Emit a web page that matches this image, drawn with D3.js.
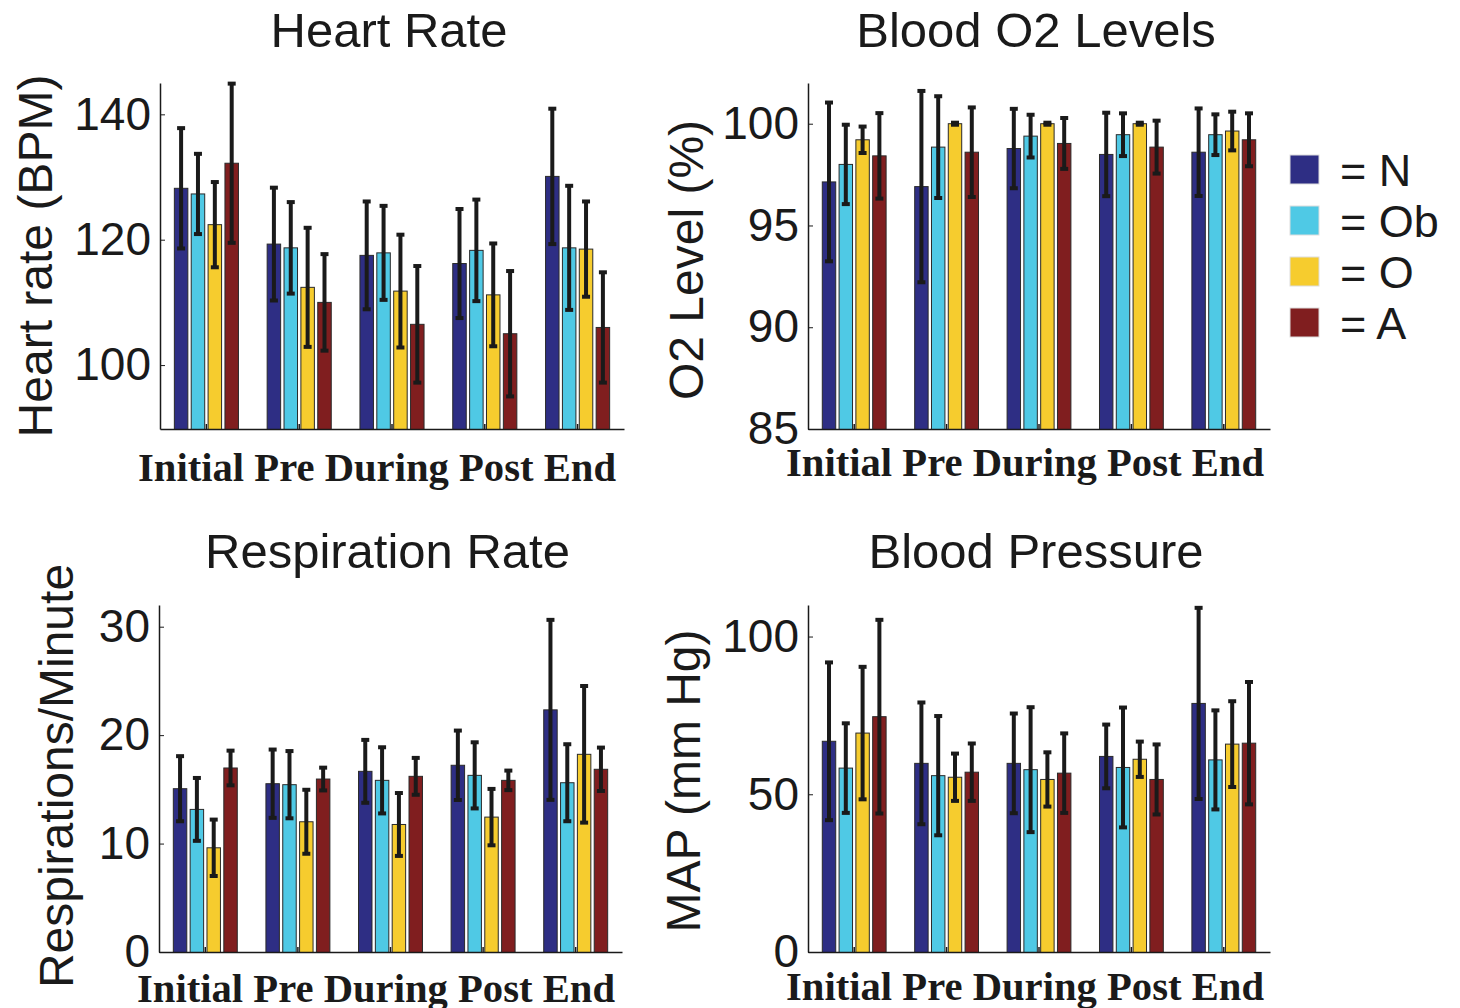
<!DOCTYPE html>
<html>
<head>
<meta charset="utf-8">
<script src="https://cdn.jsdelivr.net/npm/d3@7"></script>
<style>
  body { margin: 0; background: #fff; }
  svg text { fill: #1a1a1a; }
</style>
</head>
<body>
<svg id="chart" width="1460" height="1008"></svg>
<script>
// categories and groups
const categories = ["Initial", "Pre", "During", "Post", "End"];
const groups = ["N", "Ob", "O", "A"];
const groupColors = ["#2e2e84", "#4fc9e5", "#f6cc2e", "#801e1f"];

// values per category: [N, Ob, O, A]
const heartRateMean = [
  [128.2, 127.3, 122.4, 132.2],
  [119.3, 118.7, 112.4, 110.0],
  [117.5, 117.9, 111.8, 106.5],
  [116.2, 118.3, 111.2, 105.0],
  [130.1, 118.7, 118.5, 106.0]
];
const heartRateErr = [
  [9.6, 6.4, 6.8, 12.7],
  [9.0, 7.3, 9.5, 7.7],
  [8.6, 7.5, 9.0, 9.3],
  [8.7, 8.1, 8.2, 10.0],
  [10.8, 9.9, 7.6, 8.8]
];
const heartRateTicks = [100, 120, 140];

const o2Mean = [
  [97.14, 98.0, 99.21, 98.42],
  [96.91, 98.85, 100.0, 98.6],
  [98.78, 99.39, 100.0, 99.03],
  [98.49, 99.46, 100.0, 98.85],
  [98.6, 99.46, 99.64, 99.21]
];
const o2Err = [
  [3.9, 1.95, 0.65, 2.1],
  [4.7, 2.5, 0.05, 2.2],
  [1.95, 1.05, 0.05, 1.25],
  [2.05, 1.05, 0.05, 1.3],
  [2.15, 1.0, 0.95, 1.3]
];
const o2Ticks = [85, 90, 95, 100];

const respMean = [
  [15.06, 13.15, 9.61, 16.97],
  [15.52, 15.43, 12.01, 15.95],
  [16.66, 15.83, 11.76, 16.2],
  [17.22, 16.29, 12.44, 15.83],
  [22.33, 15.61, 18.23, 16.85]
];
const respErr = [
  [3.0, 2.9, 2.6, 1.6],
  [3.15, 3.1, 2.95, 1.05],
  [2.9, 3.05, 2.9, 1.7],
  [3.2, 3.05, 2.6, 0.9],
  [8.3, 3.55, 6.3, 2.0]
];
const respTicks = [0, 10, 20, 30];

const mapMean = [
  [66.8, 58.3, 69.4, 74.6],
  [59.8, 55.9, 55.4, 57.0],
  [59.8, 57.8, 54.7, 56.7],
  [62.0, 58.5, 61.1, 54.7],
  [78.8, 60.9, 65.9, 66.2]
];
const mapErr = [
  [25, 14.2, 21, 30.7],
  [19.3, 18.9, 7.5, 9.1],
  [15.8, 19.8, 8.6, 12.6],
  [10.1, 19, 5.6, 11.1],
  [30.3, 15.7, 13.6, 19.4]
];
const mapTicks = [0, 50, 100];

const svg = d3.select("#chart");

const panels = [
  { title: "Heart Rate", yLabel: "Heart rate (BPM)", mean: heartRateMean, err: heartRateErr,
    ticks: heartRateTicks, domain: [89.8, 145],
    x0: 160, x1: 624, top: 83, bottom: 429, titleY: 47, catY: 481, labX: 52, labY: 256 },
  { title: "Blood O2 Levels", yLabel: "O2 Level (%)", mean: o2Mean, err: o2Err,
    ticks: o2Ticks, domain: [85, 102],
    x0: 808, x1: 1270, top: 83, bottom: 429, titleY: 47, catY: 476, labX: 703, labY: 260 },
  { title: "Respiration Rate", yLabel: "Respirations/Minute", mean: respMean, err: respErr,
    ticks: respTicks, domain: [0, 32],
    x0: 159, x1: 622, top: 605, bottom: 952, titleY: 568, catY: 1002, labX: 73, labY: 776 },
  { title: "Blood Pressure", yLabel: "MAP (mm Hg)", mean: mapMean, err: mapErr,
    ticks: mapTicks, domain: [0, 110],
    x0: 808, x1: 1270, top: 605, bottom: 952, titleY: 568, catY: 1000, labX: 700, labY: 781 }
];

panels.forEach((p, pi) => drawPanel(p, pi));

function drawPanel(p, pi) {
  const g = svg.append("g");

  const xScale = d3.scaleBand()
    .domain(categories)
    .range([p.x0, p.x1]);
  // grouped bars like MATLAB: group width ~0.727 of the slot
  const groupWidth = xScale.bandwidth() * 0.727;
  const xInner = d3.scaleBand()
    .domain(groups)
    .range([-groupWidth / 2, groupWidth / 2])
    .paddingInner(0.2)
    .paddingOuter(0.1);

  const yScale = d3.scaleLinear()
    .domain(p.domain)
    .range([p.bottom, p.top]);

  g.append("clipPath").attr("id", "clip" + pi)
    .append("rect")
      .attr("x", p.x0).attr("y", p.top)
      .attr("width", p.x1 - p.x0).attr("height", p.bottom - p.top);

  const plot = g.append("g").attr("clip-path", `url(#clip${pi})`);

  // flatten to bar records
  const bars = [];
  categories.forEach((c, ci) => {
    groups.forEach((grp, gi) => {
      bars.push({ cat: c, grp: grp, gi: gi, v: p.mean[ci][gi], e: p.err[ci][gi] });
    });
  });

  plot.selectAll("rect.bar")
    .data(bars)
    .enter()
    .append("rect")
      .attr("class", "bar")
      .attr("x", d => xScale(d.cat) + xScale.bandwidth() / 2 + xInner(d.grp))
      .attr("y", d => yScale(d.v))
      .attr("width", xInner.bandwidth())
      .attr("height", d => yScale(p.domain[0]) - yScale(d.v) + 2)
      .attr("fill", d => groupColors[d.gi])
      .attr("stroke", "#2a2a2a")
      .attr("stroke-width", 1);

  // error bars
  const cx = d => xScale(d.cat) + xScale.bandwidth() / 2 + xInner(d.grp) + xInner.bandwidth() / 2;
  const errG = g.selectAll("g.err")
    .data(bars)
    .enter()
    .append("g")
      .attr("class", "err")
      .attr("stroke", "#1a1a1a")
      .attr("stroke-width", 4);
  errG.append("line")
    .attr("x1", cx).attr("x2", cx)
    .attr("y1", d => yScale(d.v - d.e))
    .attr("y2", d => yScale(d.v + d.e));
  errG.append("line")
    .attr("x1", d => cx(d) - 4).attr("x2", d => cx(d) + 4)
    .attr("y1", d => yScale(d.v + d.e)).attr("y2", d => yScale(d.v + d.e));
  errG.append("line")
    .attr("x1", d => cx(d) - 4).attr("x2", d => cx(d) + 4)
    .attr("y1", d => yScale(d.v - d.e)).attr("y2", d => yScale(d.v - d.e));

  // y axis, ticks inward
  const yAxis = g.append("g")
    .attr("transform", `translate(${p.x0},0)`)
    .call(d3.axisLeft(yScale)
      .tickValues(p.ticks)
      .tickSizeInner(-5)
      .tickSizeOuter(0)
      .tickPadding(9));
  yAxis.select(".domain").attr("stroke", "#1a1a1a").attr("stroke-width", 1.5);
  yAxis.selectAll(".tick line").attr("stroke", "#1a1a1a");
  yAxis.selectAll(".tick text")
    .attr("font-family", "Liberation Sans, Arial, sans-serif")
    .attr("font-size", 46)
    .attr("fill", "#1a1a1a");

  // x axis with inward ticks at group centers
  const xAxis = g.append("g")
    .attr("transform", `translate(0,${p.bottom})`)
    .call(d3.axisBottom(xScale)
      .tickSizeInner(-5)
      .tickSizeOuter(0)
      .tickFormat(""));
  xAxis.select(".domain").attr("stroke", "#1a1a1a").attr("stroke-width", 1.5);
  xAxis.selectAll(".tick line").attr("stroke", "#1a1a1a").attr("stroke-width", 1.5);

  // category labels written as one string under the axis
  g.append("text")
    .attr("x", p.x0 - 22)
    .attr("y", p.catY)
    .attr("textLength", 478)
    .attr("lengthAdjust", "spacingAndGlyphs")
    .attr("font-family", "Liberation Serif, Times New Roman, serif")
    .attr("font-weight", "bold")
    .attr("font-size", 41)
    .text(categories.join(" "));

  // title
  g.append("text")
    .attr("x", (p.x0 + p.x1) / 2 - 3)
    .attr("y", p.titleY)
    .attr("text-anchor", "middle")
    .attr("font-family", "Liberation Sans, Arial, sans-serif")
    .attr("font-size", 49)
    .text(p.title);

  // y label
  g.append("text")
    .attr("transform", `translate(${p.labX},${p.labY}) rotate(-90)`)
    .attr("text-anchor", "middle")
    .attr("font-family", "Liberation Sans, Arial, sans-serif")
    .attr("font-size", 48)
    .text(p.yLabel);
}

// legend
const legend = svg.append("g").attr("transform", "translate(1290,155)");
const legendRow = legend.selectAll("g")
  .data(groups)
  .enter()
  .append("g")
    .attr("transform", (d, i) => `translate(0,${i * 51})`);
legendRow.append("rect")
  .attr("width", 29).attr("height", 29)
  .attr("fill", (d, i) => groupColors[i])
  .attr("stroke", "#ddd")
  .attr("stroke-width", 1);
legendRow.append("text")
  .attr("x", 50)
  .attr("y", 31)
  .attr("font-family", "Liberation Sans, Arial, sans-serif")
  .attr("font-size", 45)
  .text(d => "= " + d);
</script>
</body>
</html>
